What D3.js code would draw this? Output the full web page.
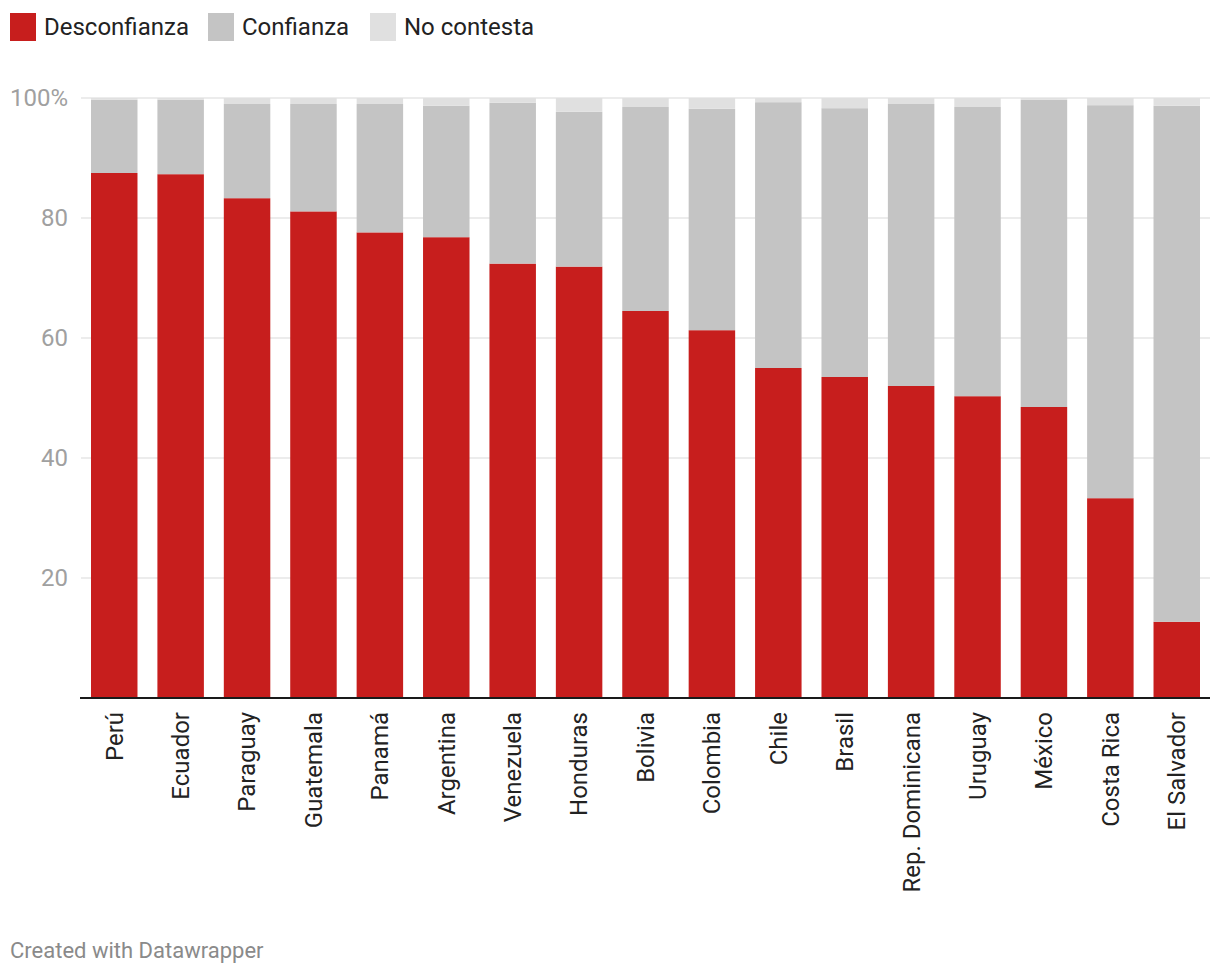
<!DOCTYPE html>
<html>
<head>
<meta charset="utf-8">
<script src="https://cdn.jsdelivr.net/npm/d3@7"></script>
<style>
  html, body { margin: 0; padding: 0; background: #fff; }
  svg { display: block; font-family: Roboto, "Noto Sans", sans-serif; }
</style>
</head>
<body>
<svg id="chart" width="1220" height="976"></svg>
<script>
const countries = ["Perú","Ecuador","Paraguay","Guatemala","Panamá","Argentina","Venezuela","Honduras","Bolivia","Colombia","Chile","Brasil","Rep. Dominicana","Uruguay","México","Costa Rica","El Salvador"];
const desconfianza = [87.5, 87.3, 83.3, 81.1, 77.6, 76.8, 72.4, 71.9, 64.5, 61.3, 55.0, 53.5, 52.0, 50.3, 48.5, 33.3, 12.7];
const confianza    = [12.2, 12.4, 15.7, 17.9, 21.4, 21.9, 26.8, 25.8, 34.0, 36.9, 44.3, 44.8, 47.0, 48.2, 51.2, 65.5, 86.0];
const noContesta   = [0.3, 0.3, 1.0, 1.0, 1.0, 1.3, 0.8, 2.3, 1.5, 1.8, 0.7, 1.7, 1.0, 1.5, 0.3, 1.2, 1.3];
const seriesNames  = ["Desconfianza","Confianza","No contesta"];
const yTicks = [20, 40, 60, 80, 100];

const colors = ["#c71e1d", "#c4c4c4", "#e0e0e0"];
const svg = d3.select("#chart");

const rows = countries.map((c, i) => ({
  country: c, "Desconfianza": desconfianza[i], "Confianza": confianza[i], "No contesta": noContesta[i]
}));
const stacked = d3.stack().keys(seriesNames)(rows);

const x = d3.scaleBand().domain(countries).range([91, 1200]).paddingInner(0.3).paddingOuter(0);
const y = d3.scaleLinear().domain([0, 100]).range([698, 98]);

// gridlines
svg.append("g").selectAll("line").data(yTicks).join("line")
  .attr("x1", 81).attr("x2", 1210)
  .attr("y1", d => y(d)).attr("y2", d => y(d))
  .attr("stroke", "#e6e6e6").attr("stroke-width", 1.5);

// y labels
svg.append("g").selectAll("text").data(yTicks).join("text")
  .attr("x", 68).attr("y", d => y(d))
  .attr("dy", "0.35em")
  .attr("text-anchor", "end")
  .attr("fill", "#a0a0a0")
  .attr("font-size", 24)
  .text(d => d === 100 ? "100%" : d);

// bars
svg.append("g").selectAll("g").data(stacked).join("g")
  .attr("fill", (d, i) => colors[i])
  .selectAll("rect").data(d => d).join("rect")
  .attr("x", d => x(d.data.country))
  .attr("width", x.bandwidth())
  .attr("y", d => y(d[1]))
  .attr("height", d => y(d[0]) - y(d[1]));

// baseline axis
svg.append("line")
  .attr("x1", 80).attr("x2", 1210)
  .attr("y1", y(0)).attr("y2", y(0))
  .attr("stroke", "#1a1a1a").attr("stroke-width", 2);

// x labels
svg.append("g").selectAll("text").data(countries).join("text")
  .attr("transform", d => `translate(${x(d) + x.bandwidth() / 2},712) rotate(-90)`)
  .attr("text-anchor", "end")
  .attr("dy", "0.35em")
  .attr("fill", "#222")
  .attr("font-size", 24)
  .text(d => d);

// legend
const legendX = [10, 208, 370];
const lg = svg.append("g").selectAll("g").data(seriesNames).join("g")
  .attr("transform", (d, i) => `translate(${legendX[i]},13)`);
lg.append("rect").attr("width", 26).attr("height", 28).attr("fill", (d, i) => colors[i]);
lg.append("text").attr("x", 34).attr("y", 14).attr("dy", "0.35em")
  .attr("fill", "#222").attr("font-size", 24).text(d => d);

// footer
svg.append("text").attr("x", 10).attr("y", 950).attr("dy", "0.35em")
  .attr("fill", "#8a8a8a").attr("font-size", 22).text("Created with Datawrapper");
</script>
</body>
</html>
